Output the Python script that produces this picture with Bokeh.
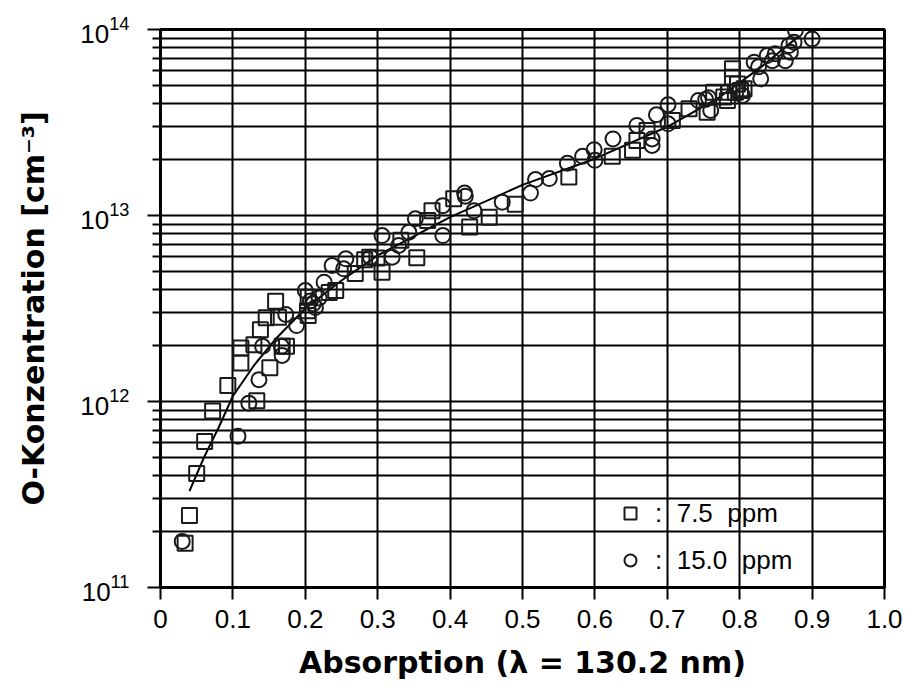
from bokeh.plotting import figure
from bokeh.models import (FixedTicker, CustomJSTickFormatter, Range1d, Legend, LegendItem,
                          LogTickFormatter)
from bokeh.embed import file_html
from bokeh.resources import INLINE

# ---- data ----
sq_x = [0.034, 0.040, 0.050, 0.061, 0.072, 0.093, 0.111, 0.111, 0.129, 0.133,
        0.138, 0.146, 0.151, 0.159, 0.163, 0.168, 0.174, 0.203, 0.204, 0.204,
        0.233, 0.242, 0.269, 0.282, 0.289, 0.299, 0.306, 0.332, 0.354, 0.369,
        0.375, 0.405, 0.427, 0.454, 0.490, 0.564, 0.624, 0.652, 0.658, 0.672,
        0.707, 0.730, 0.755, 0.764, 0.778, 0.783, 0.785, 0.790, 0.790, 0.794,
        0.797, 0.801, 0.806]
sq_y = [1.73e11, 2.44e11, 4.1e11, 6.1e11, 8.9e11, 1.22e12, 1.61e12, 1.94e12, 2.02e12, 1.01e12,
        2.43e12, 2.82e12, 1.52e12, 3.46e12, 2.84e12, 1.98e12, 1.98e12, 3.08e12, 2.9e12, 3.64e12,
        3.85e12, 3.95e12, 4.87e12, 5.79e12, 5.97e12, 5.9e12, 4.95e12, 7.35e12, 5.93e12, 9.4e12,
        1.06e13, 1.23e13, 8.66e12, 9.8e12, 1.15e13, 1.61e13, 2.08e13, 2.24e13, 2.53e13, 2.86e13,
        3.24e13, 3.75e13, 3.59e13, 4.6e13, 4.33e13, 4.15e13, 4.6e13, 6.15e13, 5.53e13, 4.6e13,
        5.1e13, 4.7e13, 4.8e13]

ci_x = [0.030, 0.107, 0.122, 0.136, 0.141, 0.167, 0.168, 0.173, 0.188, 0.200,
        0.207, 0.211, 0.214, 0.219, 0.226, 0.237, 0.253, 0.256, 0.290, 0.306,
        0.320, 0.329, 0.343, 0.352, 0.390, 0.390, 0.420, 0.421, 0.433, 0.472,
        0.511, 0.518, 0.537, 0.562, 0.583, 0.599, 0.600, 0.625, 0.658, 0.679,
        0.679, 0.685, 0.701, 0.701, 0.743, 0.753, 0.757, 0.760, 0.804, 0.820,
        0.826, 0.829, 0.838, 0.845, 0.849, 0.863, 0.868, 0.870, 0.875, 0.877,
        0.900]
ci_y = [1.77e11, 6.5e11, 9.8e11, 1.31e12, 1.98e12, 1.98e12, 1.77e12, 2.94e12, 2.56e12, 3.95e12,
        3.47e12, 3.35e12, 3.2e12, 3.6e12, 4.38e12, 5.38e12, 5.17e12, 5.85e12, 5.97e12, 7.8e12,
        5.97e12, 6.9e12, 8.13e12, 9.6e12, 7.8e12, 1.13e13, 1.32e13, 1.27e13, 1.06e13, 1.18e13,
        1.32e13, 1.56e13, 1.58e13, 1.91e13, 2.08e13, 2.26e13, 1.98e13, 2.58e13, 3.05e13, 2.38e13,
        2.58e13, 3.48e13, 3.94e13, 3.11e13, 4.15e13, 4.2e13, 4.3e13, 3.67e13, 4.42e13, 6.67e13,
        6.3e13, 5.43e13, 7.24e13, 6.8e13, 7.4e13, 6.8e13, 8.2e13, 7.55e13, 8.55e13, 9.9e13,
        8.9e13]

fit_x = [0.04, 0.06, 0.08, 0.10, 0.13, 0.16, 0.20, 0.25, 0.30, 0.40, 0.50,
         0.60, 0.70, 0.77, 0.83, 0.88]
fit_y = [3.3e11, 5.0e11, 7.2e11, 1.07e12, 1.58e12, 2.19e12, 3.16e12, 4.47e12, 6.1e12,
         9.8e12, 1.46e13, 2.02e13, 3.0e13, 4.27e13, 6.3e13, 9.1e13]

x_ticks = [0.0, 0.1, 0.2, 0.3, 0.4, 0.5, 0.6, 0.7, 0.8, 0.9, 1.0]
y_ticks = [1e11, 1e12, 1e13, 1e14]
y_minor = [m * d for d in [1e11, 1e12, 1e13] for m in range(2, 10)]

labels = [":\u00a0\u00a07.5\u00a0\u00a0ppm", ":\u00a0\u00a015.0\u00a0\u00a0ppm"]
x_label = "Absorption (\u03bb = 130.2 nm)"
y_label = "O-Konzentration [cm\u207b\u00b3]"

TICK_FONT = "Liberation Sans"
LABEL_FONT = "DejaVu Sans"

p = figure(width=906, height=692, y_axis_type="log", output_backend="svg",
           toolbar_location=None, x_range=Range1d(0, 1.0), y_range=Range1d(1e11, 1e14),
           min_border_left=160, min_border_right=22, min_border_top=29, min_border_bottom=105)

p.background_fill_color = "white"
p.border_fill_color = "white"
p.outline_line_color = "black"
p.outline_line_width = 3

# grids
p.xgrid.ticker = FixedTicker(ticks=x_ticks)
p.xgrid.grid_line_color = "black"
p.xgrid.grid_line_width = 2
p.ygrid.ticker = FixedTicker(ticks=y_ticks, minor_ticks=y_minor)
p.ygrid.grid_line_color = "black"
p.ygrid.grid_line_width = 2
p.ygrid.minor_grid_line_color = "black"
p.ygrid.minor_grid_line_width = 2

# x axis
xa = p.xaxis[0]
xa.ticker = FixedTicker(ticks=x_ticks)
xa.formatter = CustomJSTickFormatter(code="return tick == 0 ? '0' : tick.toFixed(1);")
xa.axis_line_width = 3
xa.axis_line_color = "black"
xa.major_tick_line_width = 2
xa.major_tick_in = 0
xa.major_tick_out = 12
xa.minor_tick_line_color = None
xa.major_label_text_font = TICK_FONT
xa.major_label_text_font_size = "26px"
xa.major_label_text_color = "black"
xa.major_label_standoff = 10
xa.axis_label = x_label
xa.axis_label_text_font = LABEL_FONT
xa.axis_label_text_font_size = "30px"
xa.axis_label_text_font_style = "bold"
xa.axis_label_text_color = "black"
xa.axis_label_standoff = 14

# y axis
ya = p.yaxis[0]
ya.ticker = FixedTicker(ticks=y_ticks, minor_ticks=y_minor)
ya.formatter = LogTickFormatter()
ya.axis_line_width = 3
ya.axis_line_color = "black"
ya.major_tick_line_width = 2
ya.major_tick_in = 0
ya.major_tick_out = 13
ya.minor_tick_line_width = 2
ya.minor_tick_in = 0
ya.minor_tick_out = 8
ya.major_label_text_font = TICK_FONT
ya.major_label_text_font_size = "26px"
ya.major_label_text_color = "black"
ya.major_label_standoff = 18
ya.axis_label = y_label
ya.axis_label_text_font = LABEL_FONT
ya.axis_label_text_font_size = "30px"
ya.axis_label_text_font_style = "bold"
ya.axis_label_text_color = "black"
ya.axis_label_standoff = 26

# data
p.line(fit_x, fit_y, line_color="black", line_width=2)
sq = p.scatter(sq_x, sq_y, marker="square", size=15, fill_color=None,
               line_color="#1a1a1a", line_width=2)
ci = p.scatter(ci_x, ci_y, marker="circle", size=15, fill_color=None,
               line_color="#1a1a1a", line_width=2)

legend = Legend(items=[LegendItem(label=labels[0], renderers=[sq]),
                       LegendItem(label=labels[1], renderers=[ci])],
                location=(450, 4))
legend.background_fill_alpha = 0
legend.border_line_alpha = 0
legend.padding = 5
legend.margin = 0
legend.spacing = 11
legend.glyph_width = 30
legend.glyph_height = 36
legend.label_standoff = 10
legend.label_text_font = TICK_FONT
legend.label_text_font_size = "26px"
legend.label_text_color = "black"
p.add_layout(legend, "center")

open("out.html", "w").write(file_html(p, INLINE))
